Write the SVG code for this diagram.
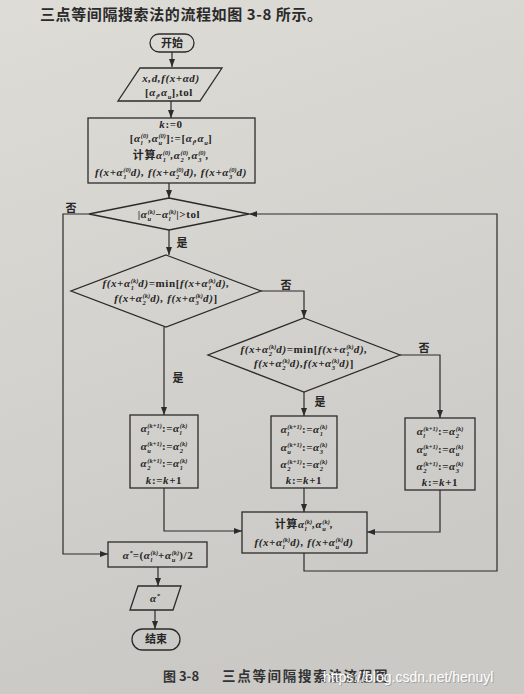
<svg xmlns="http://www.w3.org/2000/svg" width="524" height="694" viewBox="0 0 524 694">
<defs>
<linearGradient id="bg" x1="0" y1="0" x2="0.25" y2="1">
<stop offset="0" stop-color="#dedcd7"/>
<stop offset="1" stop-color="#cac9c5"/>
</linearGradient>
<marker id="ah" markerWidth="8" markerHeight="6" refX="8" refY="3" orient="auto" markerUnits="userSpaceOnUse">
<path d="M0,0 L8,3 L0,6 z" fill="#2b2b2b"/>
</marker>
<style>
.sh{fill:none;stroke:#2b2b2b;stroke-width:1.3}
.ln{fill:none;stroke:#2b2b2b;stroke-width:1.2}
.ar{marker-end:url(#ah)}
.t{font-family:"Liberation Serif","Noto Sans CJK SC",serif;font-size:11px;font-weight:bold;font-style:italic;fill:#262626;text-anchor:middle;letter-spacing:0.6px}
.s{font-size:6.5px;letter-spacing:0}
.u{font-style:normal}
.c{font-family:"Noto Sans CJK SC",sans-serif;font-style:normal;font-weight:bold}
.lb{font-family:"Noto Sans CJK SC",sans-serif;font-size:11px;font-weight:bold;fill:#262626;text-anchor:middle}
</style>
</defs>
<rect x="0" y="0" width="524" height="694" fill="url(#bg)"/>
<text x="40" y="20" font-family="Noto Sans CJK SC, sans-serif" font-size="15" font-weight="bold" fill="#2a2a2a" letter-spacing="0.6">三点等间隔搜索法的流程如图 3-8 所示。</text>

<g id="connectors">
<path class="ln ar" d="M172,52 V67"/>
<path class="ln ar" d="M171,101 V118"/>
<path class="ln ar" d="M169,183 V198"/>
<path class="ln ar" d="M89,214 H63 V554 H108"/>
<path class="ln ar" d="M169,230 V255"/>
<path class="ln ar" d="M261,291 H304 V318"/>
<path class="ln ar" d="M164,327 V415"/>
<path class="ln ar" d="M400,355 H440 V418"/>
<path class="ln ar" d="M304,392 V416"/>
<path class="ln ar" d="M164,488 V531 H242"/>
<path class="ln ar" d="M304,488 V512"/>
<path class="ln ar" d="M440,490 V532 H367"/>
<path class="ln ar" d="M304,553 V571 H497 V214 H249"/>
<path class="ln ar" d="M158,567 V586"/>
<path class="ln ar" d="M155,610 V629"/>
<text class="lb" x="71" y="212">否</text>
<text class="lb" x="182" y="247">是</text>
<text class="lb" x="286" y="289">否</text>
<text class="lb" x="178" y="382">是</text>
<text class="lb" x="424" y="352">否</text>
<text class="lb" x="320" y="406">是</text>
</g>

<g id="start">
<rect class="sh" x="150" y="34" width="44" height="18" rx="9"/>
<text class="lb" x="172" y="47">开始</text>
</g>

<g id="input">
<path class="sh" d="M140,68 H222 L200,101 H118 Z"/>
<text class="t" x="171" y="82">x,d,f(x+αd)</text>
<text class="t" x="169" y="96"><tspan class="u">[</tspan>α<tspan class="s" dy="3">l</tspan><tspan dy="-3">,α</tspan><tspan class="s" dy="3">u</tspan><tspan class="u" dy="-3">],tol</tspan></text>
</g>

<g id="init">
<rect class="sh" x="88" y="118" width="167" height="65"/>
<text class="t" x="171" y="128">k<tspan class="u">:=0</tspan></text>
<text class="t" x="171" y="142"><tspan class="u">[</tspan>α<tspan class="s" dy="3">l</tspan><tspan class="s" dx="-1.8" dy="-7">(0)</tspan><tspan dy="4">,α</tspan><tspan class="s" dy="3">u</tspan><tspan class="s" dx="-3.6" dy="-7">(0)</tspan><tspan class="u" dy="4">]:=[</tspan>α<tspan class="s" dy="3">l</tspan><tspan dy="-3">,α</tspan><tspan class="s" dy="3">u</tspan><tspan class="u" dy="-3">]</tspan></text>
<text class="t" x="171" y="159"><tspan class="c">计算</tspan>α<tspan class="s" dy="3">1</tspan><tspan class="s" dx="-3.2" dy="-7">(0)</tspan><tspan dy="4">,α</tspan><tspan class="s" dy="3">2</tspan><tspan class="s" dx="-3.2" dy="-7">(0)</tspan><tspan dy="4">,α</tspan><tspan class="s" dy="3">3</tspan><tspan class="s" dx="-3.2" dy="-7">(0)</tspan><tspan dy="4">,</tspan></text>
<text class="t" x="171" y="176">f(x+α<tspan class="s" dy="3">1</tspan><tspan class="s" dx="-3.2" dy="-7">(0)</tspan><tspan dy="4">d), f(x+α</tspan><tspan class="s" dy="3">2</tspan><tspan class="s" dx="-3.2" dy="-7">(0)</tspan><tspan dy="4">d), f(x+α</tspan><tspan class="s" dy="3">3</tspan><tspan class="s" dx="-3.2" dy="-7">(0)</tspan><tspan dy="4">d)</tspan></text>
</g>

<g id="dec1">
<path class="sh" d="M169,198 L249,214 L169,230 L89,214 Z"/>
<text class="t" x="169" y="218"><tspan class="u">|</tspan>α<tspan class="s" dy="3">u</tspan><tspan class="s" dx="-3.6" dy="-7">(k)</tspan><tspan class="u" dy="4">−</tspan>α<tspan class="s" dy="3">l</tspan><tspan class="s" dx="-1.8" dy="-7">(k)</tspan><tspan class="u" dy="4">|&gt;tol</tspan></text>
</g>

<g id="dec2">
<path class="sh" d="M166,255 L261,291 L166,327 L71,291 Z"/>
<text class="t" x="166" y="287">f(x+α<tspan class="s" dy="3">1</tspan><tspan class="s" dx="-3.2" dy="-7">(k)</tspan><tspan dy="4">d)</tspan><tspan class="u">=min[</tspan>f(x+α<tspan class="s" dy="3">1</tspan><tspan class="s" dx="-3.2" dy="-7">(k)</tspan><tspan dy="4">d),</tspan></text>
<text class="t" x="166" y="302">f(x+α<tspan class="s" dy="3">2</tspan><tspan class="s" dx="-3.2" dy="-7">(k)</tspan><tspan dy="4">d), f(x+α</tspan><tspan class="s" dy="3">3</tspan><tspan class="s" dx="-3.2" dy="-7">(k)</tspan><tspan dy="4">d)</tspan><tspan class="u">]</tspan></text>
</g>

<g id="dec3">
<path class="sh" d="M304,318 L400,355 L304,392 L208,355 Z"/>
<text class="t" x="304" y="353">f(x+α<tspan class="s" dy="3">2</tspan><tspan class="s" dx="-3.2" dy="-7">(k)</tspan><tspan dy="4">d)</tspan><tspan class="u">=min[</tspan>f(x+α<tspan class="s" dy="3">1</tspan><tspan class="s" dx="-3.2" dy="-7">(k)</tspan><tspan dy="4">d),</tspan></text>
<text class="t" x="304" y="367">f(x+α<tspan class="s" dy="3">2</tspan><tspan class="s" dx="-3.2" dy="-7">(k)</tspan><tspan dy="4">d),f(x+α</tspan><tspan class="s" dy="3">3</tspan><tspan class="s" dx="-3.2" dy="-7">(k)</tspan><tspan dy="4">d)</tspan><tspan class="u">]</tspan></text>
</g>

<g id="box1">
<rect class="sh" x="130" y="415" width="68" height="73"/>
<text class="t" x="164" y="432">α<tspan class="s" dy="3">l</tspan><tspan class="s" dx="-1.8" dy="-7">(k+1)</tspan><tspan class="u" dy="4">:=</tspan>α<tspan class="s" dy="3">l</tspan><tspan class="s" dx="-1.8" dy="-7">(k)</tspan></text>
<text class="t" x="164" y="450">α<tspan class="s" dy="3">u</tspan><tspan class="s" dx="-3.6" dy="-7">(k+1)</tspan><tspan class="u" dy="4">:=</tspan>α<tspan class="s" dy="3">2</tspan><tspan class="s" dx="-3.2" dy="-7">(k)</tspan></text>
<text class="t" x="164" y="467">α<tspan class="s" dy="3">2</tspan><tspan class="s" dx="-3.2" dy="-7">(k+1)</tspan><tspan class="u" dy="4">:=</tspan>α<tspan class="s" dy="3">1</tspan><tspan class="s" dx="-3.2" dy="-7">(k)</tspan></text>
<text class="t" x="164" y="484">k<tspan class="u">:=</tspan>k<tspan class="u">+1</tspan></text>
</g>

<g id="box2">
<rect class="sh" x="271" y="416" width="66" height="72"/>
<text class="t" x="304" y="433">α<tspan class="s" dy="3">l</tspan><tspan class="s" dx="-1.8" dy="-7">(k+1)</tspan><tspan class="u" dy="4">:=</tspan>α<tspan class="s" dy="3">1</tspan><tspan class="s" dx="-3.2" dy="-7">(k)</tspan></text>
<text class="t" x="304" y="451">α<tspan class="s" dy="3">u</tspan><tspan class="s" dx="-3.6" dy="-7">(k+1)</tspan><tspan class="u" dy="4">:=</tspan>α<tspan class="s" dy="3">3</tspan><tspan class="s" dx="-3.2" dy="-7">(k)</tspan></text>
<text class="t" x="304" y="468">α<tspan class="s" dy="3">2</tspan><tspan class="s" dx="-3.2" dy="-7">(k+1)</tspan><tspan class="u" dy="4">:=</tspan>α<tspan class="s" dy="3">2</tspan><tspan class="s" dx="-3.2" dy="-7">(k)</tspan></text>
<text class="t" x="304" y="484">k<tspan class="u">:=</tspan>k<tspan class="u">+1</tspan></text>
</g>

<g id="box3">
<rect class="sh" x="405" y="418" width="70" height="72"/>
<text class="t" x="440" y="435">α<tspan class="s" dy="3">l</tspan><tspan class="s" dx="-1.8" dy="-7">(k+1)</tspan><tspan class="u" dy="4">:=</tspan>α<tspan class="s" dy="3">2</tspan><tspan class="s" dx="-3.2" dy="-7">(k)</tspan></text>
<text class="t" x="440" y="453">α<tspan class="s" dy="3">u</tspan><tspan class="s" dx="-3.6" dy="-7">(k+1)</tspan><tspan class="u" dy="4">:=</tspan>α<tspan class="s" dy="3">u</tspan><tspan class="s" dx="-3.6" dy="-7">(k)</tspan></text>
<text class="t" x="440" y="470">α<tspan class="s" dy="3">2</tspan><tspan class="s" dx="-3.2" dy="-7">(k+1)</tspan><tspan class="u" dy="4">:=</tspan>α<tspan class="s" dy="3">3</tspan><tspan class="s" dx="-3.2" dy="-7">(k)</tspan></text>
<text class="t" x="440" y="486">k<tspan class="u">:=</tspan>k<tspan class="u">+1</tspan></text>
</g>

<g id="compute">
<rect class="sh" x="242" y="512" width="125" height="41"/>
<text class="t" x="304" y="528"><tspan class="c">计算</tspan>α<tspan class="s" dy="3">l</tspan><tspan class="s" dx="-1.8" dy="-7">(k)</tspan><tspan dy="4">,α</tspan><tspan class="s" dy="3">u</tspan><tspan class="s" dx="-3.6" dy="-7">(k)</tspan><tspan dy="4">,</tspan></text>
<text class="t" x="304" y="546">f(x+α<tspan class="s" dy="3">l</tspan><tspan class="s" dx="-1.8" dy="-7">(k)</tspan><tspan dy="4">d), f(x+α</tspan><tspan class="s" dy="3">u</tspan><tspan class="s" dx="-3.6" dy="-7">(k)</tspan><tspan dy="4">d)</tspan></text>
</g>

<g id="result">
<rect class="sh" x="108" y="542" width="99" height="25"/>
<text class="t" x="158" y="559">α<tspan class="s" dy="-4">*</tspan><tspan class="u" dy="4">=(</tspan>α<tspan class="s" dy="3">l</tspan><tspan class="s" dx="-1.8" dy="-7">(k)</tspan><tspan class="u" dy="4">+</tspan>α<tspan class="s" dy="3">u</tspan><tspan class="s" dx="-3.6" dy="-7">(k)</tspan><tspan class="u" dy="4">)/2</tspan></text>
</g>

<g id="output">
<path class="sh" d="M138,586 H181 L173,610 H130 Z"/>
<text class="t" x="155" y="602">α<tspan class="s" dy="-4">*</tspan></text>
</g>

<g id="end">
<rect class="sh" x="132" y="629" width="48" height="21" rx="10.5"/>
<text class="lb" x="156" y="643">结束</text>
</g>

<text x="163" y="681" font-family="Noto Sans CJK SC, sans-serif" font-size="13" font-weight="bold" fill="#333">图 3-8</text>
<text x="222" y="681" font-family="Noto Sans CJK SC, sans-serif" font-size="13.5" font-weight="bold" fill="#333" letter-spacing="1.7">三点等间隔搜索法流程图</text>
<text x="324" y="683" font-family="Liberation Sans, sans-serif" font-size="14" fill="#8a8a8a" opacity="0.6">https://blog.csdn.net/henuyl</text>
<text x="323" y="682" font-family="Liberation Sans, sans-serif" font-size="14" fill="#ffffff">https://blog.csdn.net/henuyl</text>
</svg>
